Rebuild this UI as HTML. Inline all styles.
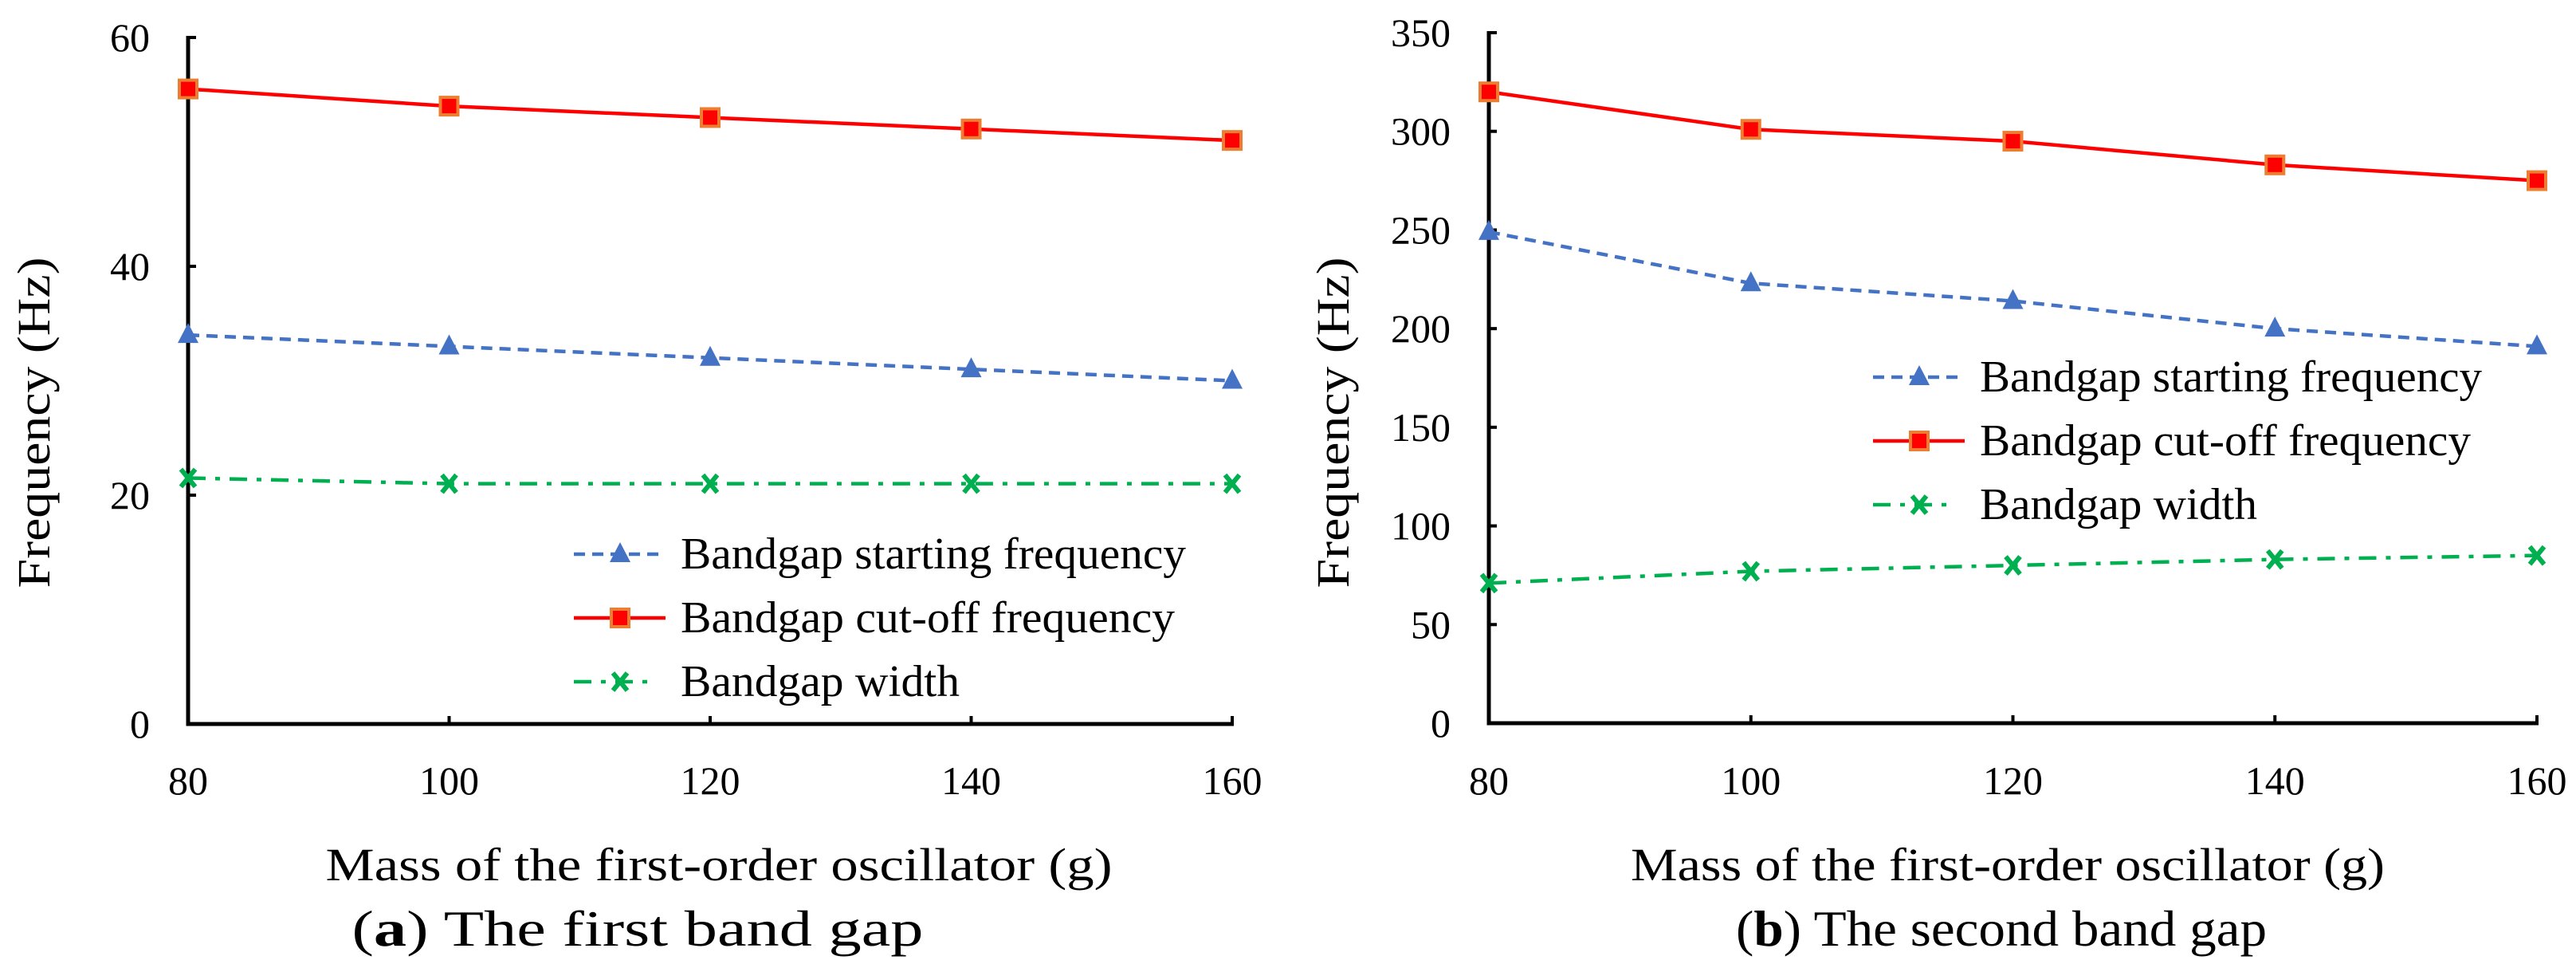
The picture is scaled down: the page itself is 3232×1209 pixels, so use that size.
<!DOCTYPE html>
<html><head><meta charset="utf-8"><style>
html,body{margin:0;padding:0;background:#fff;}
svg{display:block;font-family:"Liberation Serif",serif;}
</style></head><body>
<svg id="chart" width="3232" height="1209" viewBox="0 0 3232 1209" xmlns="http://www.w3.org/2000/svg"></svg>
<script>
const categories = [80, 100, 120, 140, 160];
const aStart = [34, 33, 32, 31, 30];
const aCutoff = [55.5, 54, 53, 52, 51];
const aWidth = [21.5, 21, 21, 21, 21];
const aTicks = [0, 20, 40, 60];
const bStart = [249, 223, 214, 200, 191];
const bCutoff = [320, 301, 295, 283, 275];
const bWidth = [71, 77, 80, 83, 85];
const bTicks = [0, 50, 100, 150, 200, 250, 300, 350];
const legendLabels = ["Bandgap starting frequency", "Bandgap cut-off frequency", "Bandgap width"];

const NS = "http://www.w3.org/2000/svg";
const svg = document.getElementById('chart');
function mk(tag, attrs, parent, text){
  const e = document.createElementNS(NS, tag);
  for (const k in attrs) e.setAttribute(k, attrs[k]);
  if (text !== undefined) e.textContent = text;
  (parent||svg).appendChild(e);
  return e;
}
function marker(g, kind, x, y){
  if (kind === 0){
    const m = mk('polygon', {points:`${x},${y-15} ${x-13},${y+10} ${x+13},${y+10}`, fill:'#4472C4'}, g);
    
    
  } else if (kind === 1){
    const m = mk('rect', {x:x-11, y:y-11, width:22, height:22, fill:'#FF0000', stroke:'#ED7D31', 'stroke-width':4}, g);
    
    
  } else {
    const m = mk('path', {d:`M${x-9},${y-11}L${x+9},${y+11}M${x+9},${y-11}L${x-9},${y+11}`, stroke:'#00B050', 'stroke-width':6, fill:'none'}, g);
    
    
  }
}
const styles = [
  {stroke:'#4472C4', dash:'14 9'},
  {stroke:'#FF0000', dash:''},
  {stroke:'#00B050', dash:'22 12 6 12'}
];
function panel(opt){
  const g = mk('g', {});
  
  
  const xs = v => opt.x0 + (v - categories[0])/(categories[categories.length-1]-categories[0])*(opt.x1-opt.x0);
  const ys = v => opt.y0 - v/opt.ymax*(opt.y0-opt.y1);
  opt.ticks.forEach(t => {
    const y = ys(t);
    mk('line', {x1:opt.x0, x2:opt.x0+10, y1:y, y2:y, stroke:'#000', 'stroke-width':4}, g);
    const lab = mk('text', {x:opt.x0-48, y:y+17, 'text-anchor':'end', 'font-size':50}, g, t);
    
    
  });
  categories.forEach(c => {
    const x = xs(c);
    mk('line', {x1:x, x2:x, y1:opt.y0, y2:opt.y0-10, stroke:'#000', 'stroke-width':4}, g);
    const lab = mk('text', {x:x, y:996, 'text-anchor':'middle', 'font-size':50}, g, c);
    
    
  });
  const ax = mk('path', {d:`M${opt.x0},${opt.y1-2}V${opt.y0}H${opt.x1+2}`, stroke:'#000', 'stroke-width':5, fill:'none'}, g);
  
  
  opt.series.forEach((s, i) => {
    const sg = mk('g', {}, g);
    
    
    const pts = s.map((v, j) => `${xs(categories[j])},${ys(v)}`).join(' ');
    mk('polyline', {points:pts, fill:'none', stroke:styles[i].stroke, 'stroke-width':4.5, 'stroke-dasharray':styles[i].dash}, sg);
    s.forEach((v, j) => marker(sg, i, xs(categories[j]), ys(v)));
  });
  const lg = mk('g', {}, g);
  
  
  const lens = opt.legLens;
  legendLabels.forEach((l, i) => {
    const y = opt.ly + i*80;
    mk('line', {x1:opt.lx, x2:opt.lx+(i===2?100:115), y1:y, y2:y, stroke:styles[i].stroke, 'stroke-width':4.5, 'stroke-dasharray':styles[i].dash}, lg);
    marker(lg, i, opt.lx+58, y);
    const t = mk('text', {x:opt.lx+134, y:y+18, 'font-size':56, textLength:lens[i], lengthAdjust:'spacingAndGlyphs'}, lg, l);
    
    
  });
  const xt = mk('text', {x:opt.xtx, y:1104, 'text-anchor':'middle', 'font-size':58, textLength:opt.xtLen, lengthAdjust:'spacingAndGlyphs'}, g, 'Mass of the first-order  oscillator  (g)');
  
  
  const yt = mk('text', {x:0, y:0, 'text-anchor':'middle', 'font-size':58, textLength:415, lengthAdjust:'spacingAndGlyphs', transform:`translate(${opt.ytx},${530}) rotate(-90)`}, g, 'Frequency  (Hz)');
  
  
  const cap = mk('text', {x:opt.capx, y:1186, 'text-anchor':'middle', 'font-size':64, textLength:opt.capLen, lengthAdjust:'spacingAndGlyphs'}, g);
  
  
  mk('tspan', {}, cap, '(');
  mk('tspan', {'font-weight':'bold'}, cap, opt.letter);
  mk('tspan', {}, cap, ') ' + opt.caption);
}
panel({name:'panel-a', x0:236, x1:1546, y0:908, y1:47, ymax:60, ticks:aTicks,
  series:[aStart, aCutoff, aWidth], lx:720, ly:695, ytx:62, xtx:902, xtLen:987, capx:800, capLen:717,
  legLens:[634, 620, 350], letter:'a', caption:'The first band gap'});
panel({name:'panel-b', x0:1868, x1:3183, y0:907, y1:41, ymax:350, ticks:bTicks,
  series:[bStart, bCutoff, bWidth], lx:2350, ly:473, ytx:1692, xtx:2519, xtLen:946, capx:2511, capLen:666,
  legLens:[630, 616, 348], letter:'b', caption:'The second band gap'});
</script>
</body></html>
